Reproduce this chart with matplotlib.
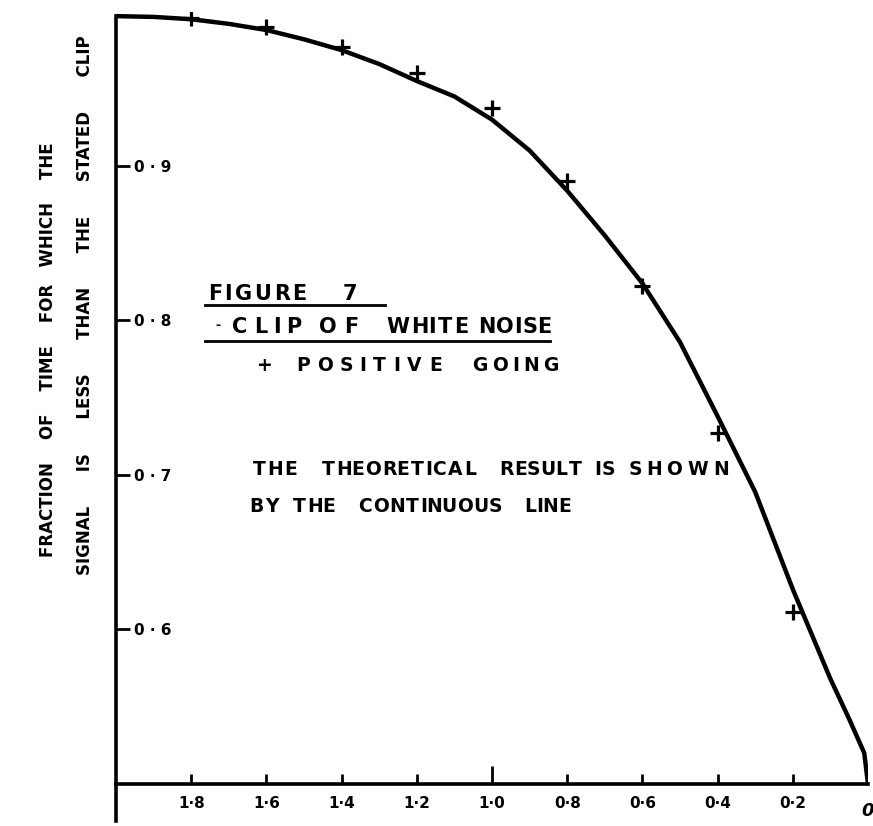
import numpy as np
import matplotlib
matplotlib.use("Agg")
import matplotlib.pyplot as plt
from matplotlib.lines import Line2D
from matplotlib.textpath import TextPath
from matplotlib.font_manager import FontProperties

# theoretical curve
clip_curve = [2.0, 1.9, 1.8, 1.7, 1.6, 1.5, 1.4, 1.3, 1.2, 1.1, 1.0,
              0.9, 0.8, 0.7, 0.6, 0.5, 0.4, 0.3, 0.2, 0.1, 0.05, 0.01, 0.0]
frac_curve = [0.997, 0.9965, 0.995, 0.992, 0.988, 0.982, 0.975, 0.966, 0.955, 0.945, 0.930,
              0.910, 0.884, 0.855, 0.824, 0.786, 0.738, 0.689, 0.626, 0.568, 0.542, 0.520, 0.500]

# measured points, positive going
clip_meas = [1.8, 1.6, 1.4, 1.2, 1.0, 0.8, 0.6, 0.4, 0.2]
frac_meas = [0.996, 0.990, 0.977, 0.960, 0.9375, 0.890, 0.822, 0.727, 0.611]

xticks = [1.8, 1.6, 1.4, 1.2, 1.0, 0.8, 0.6, 0.4, 0.2]
xlabels = ["1·8", "1·6", "1·4", "1·2", "1·0", "0·8", "0·6", "0·4", "0·2"]
yticks = [0.9, 0.8, 0.7, 0.6]
ylabels = ["0 · 9", "0 · 8", "0 · 7", "0 · 6"]

W, H = 873, 826
plt.rcParams['font.family'] = ['DejaVu Sans']
plt.rcParams['font.weight'] = 'bold'

fig = plt.figure(figsize=(W / 100, H / 100), dpi=100)
ymin = 0.476
ax = fig.add_axes([116 / W, 1 - 821 / H, (868 - 116) / W, (821 - 11.5) / H])
ax.set_xlim(2.0, 0.0)
ax.set_ylim(ymin, 1.0)

ax.plot(clip_curve, frac_curve, color="black", lw=3.2, solid_capstyle="round",
        solid_joinstyle="round")
ax.plot(clip_meas, frac_meas, ls="none", marker="+", ms=12, mew=2.3, color="black")

for s in ["top", "right"]:
    ax.spines[s].set_visible(False)
ax.spines["left"].set_linewidth(2.6)
ax.spines["bottom"].set_linewidth(2.6)
ax.spines["bottom"].set_position(("data", 0.5))
ax.spines["left"].set_bounds(ymin, 0.997)

ax.set_xticks(xticks)
ax.set_xticklabels(xlabels)
ax.tick_params(axis="x", direction="in", length=7, width=2, pad=9, labelsize=11)
ax.xaxis.get_major_ticks()[4].tick1line.set_markersize(13)
ax.set_yticks(yticks)
ax.set_yticklabels(ylabels)
ax.tick_params(axis="y", direction="in", length=10, width=2, pad=-13, labelsize=11)
for lab in ax.get_yticklabels():
    lab.set_ha("left")
ax.text(0.0, 0.488, "0", ha="center", va="top", fontsize=13,
        fontstyle="italic", fontweight="bold")


def px2fig(px, py):
    return px / W, 1 - py / H


def ink_widths(word, size):
    fp = FontProperties(family="DejaVu Sans", weight="bold", size=size)
    return [TextPath((0, 0), ch, prop=fp).get_extents().width * 100 / 72 for ch in word]


def spaced(word, x0, x1, py, size, min_gap=3.0):
    # hand lettering is spaced wider than the font: spread letters over the word's span,
    # widening the span about its middle when the letters do not fit
    n = len(word)
    ws = ink_widths(word, size)
    need = sum(ws) + min_gap * (n - 1)
    if need > x1 - x0:
        mid = (x0 + x1) / 2
        x0, x1 = mid - need / 2, mid + need / 2
    gap = (x1 - x0 - sum(ws)) / max(n - 1, 1)
    cur = x0 if n > 1 else (x0 + x1 - ws[0]) / 2
    for ch, w in zip(word, ws):
        x, y = px2fig(cur + w / 2, py)
        fig.text(x, y, ch, fontsize=size, fontweight="bold", ha="center", va="center")
        cur += w + gap


def fline(x0, x1, py, lw=2):
    (fx0, fy), (fx1, _) = px2fig(x0, py), px2fig(x1, py)
    fig.add_artist(Line2D([fx0, fx1], [fy, fy], color="black", lw=lw,
                          transform=fig.transFigure))


# axis title, two rotated lines
x, y = px2fig(48, 350)
fig.text(x, y, "FRACTION    OF    TIME    FOR   WHICH    THE", fontsize=12,
         fontweight="bold", rotation=90, ha="center", va="center")
x, y = px2fig(85, 305)
fig.text(x, y, "SIGNAL      IS      LESS      THAN      THE      STATED      CLIP",
         fontsize=12, fontweight="bold", rotation=90, ha="center", va="center")

# caption block
spaced("FIGURE", 210, 305, 294, 15)
spaced("7", 343, 357, 294, 15)
fline(205, 385, 305)
x, y = px2fig(218, 326)
fig.text(x, y, "-", fontsize=9, ha="center", va="center")
for w, a, b in [("CLIP", 233, 300), ("OF", 320, 357), ("WHITE", 387, 467), ("NOISE", 480, 550)]:
    spaced(w, a, b, 327, 15)
fline(205, 550, 341)
for w, a, b in [("+", 259, 271), ("POSITIVE", 298, 440), ("GOING", 473, 557)]:
    spaced(w, a, b, 365, 13.5)
for w, a, b in [("THE", 253, 295), ("THEORETICAL", 327, 470), ("RESULT", 505, 577),
                ("IS", 597, 613), ("SHOWN", 630, 727)]:
    spaced(w, a, b, 469, 13.5)
for w, a, b in [("BY", 253, 277), ("THE", 297, 330), ("CONTINUOUS", 363, 497), ("LINE", 527, 567)]:
    spaced(w, a, b, 507, 13.5)

fig.savefig("out.png", dpi=100)
